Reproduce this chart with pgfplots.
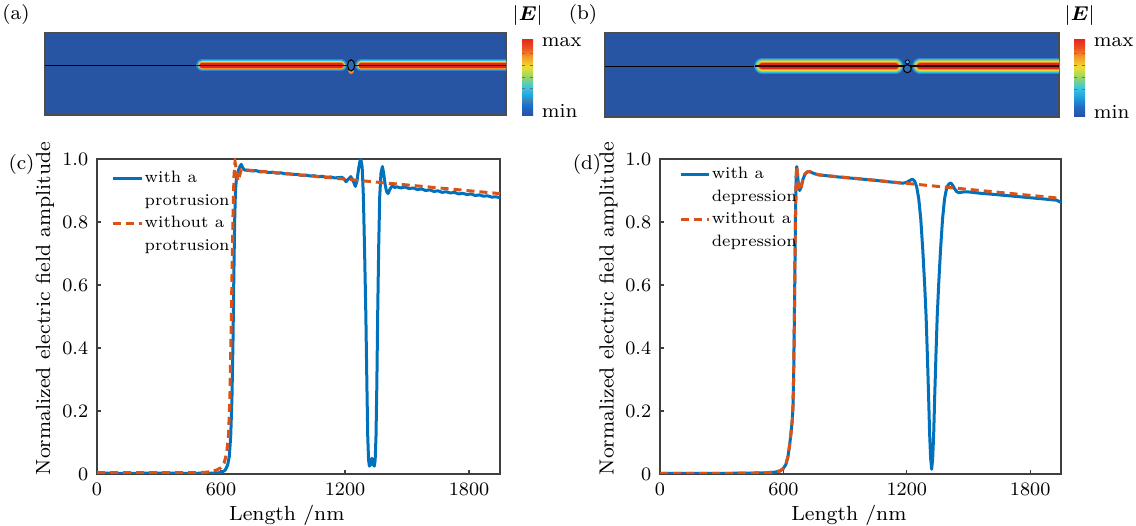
\documentclass[border=0pt]{standalone}
\usepackage{pgfplots}
\pgfplotsset{compat=1.18}
\usepackage{bm}

\definecolor{mblue}{RGB}{0,114,189}
\definecolor{mred}{RGB}{217,83,25}
\definecolor{bgblue}{RGB}{40,84,164}
\definecolor{fl1}{RGB}{55,130,205}
\definecolor{fl2}{RGB}{45,190,228}
\definecolor{fl3}{RGB}{150,212,95}
\definecolor{fl4}{RGB}{240,218,48}
\definecolor{fl5}{RGB}{245,140,38}
\definecolor{fl6}{RGB}{226,38,30}
\definecolor{dotfill}{RGB}{45,110,170}

% one layer of the field band: colour, width, y, left start, left end, right start
\newcommand{\bandlayer}[6]{%
  \addplot[no marks, draw=#1, line width=#2, line cap=round, unbounded coords=jump]
    coordinates {(#4,#3) (#5,#3) (0.66,nan) (#6,#3) (1.06,#3)};}
\newcommand{\ls}{\rule[-1.6pt]{0pt}{6.4pt}}

\pgfplotsset{
  fieldmap/.style={
    scale only axis, anchor=south west,
    xmin=0, xmax=1, ymin=0, ymax=1,
    xtick=\empty, ytick=\empty,
    axis line style={draw=black!70, line width=0.5pt},
    axis background/.style={fill=bgblue},
    colormap={fieldjet}{rgb255=(38,80,165) rgb255=(35,105,195) rgb255=(30,160,222)
      rgb255=(60,200,222) rgb255=(150,212,100) rgb255=(235,222,50) rgb255=(245,160,40)
      rgb255=(235,80,35) rgb255=(225,35,30)},
    colorbar, point meta min=0, point meta max=1,
  },
  cbar/.style={
    scale only axis, width=4.4pt,
    at={(parent axis.south east)}, anchor=south west,
    ytick={0.06,0.95}, yticklabels={min,max},
    yticklabel style={font=\fontsize{8}{9}\selectfont},
    major tick length=0pt,
    extra y ticks={0.2,0.35,0.5,0.65,0.8}, extra y tick labels={},
    extra y tick style={major tick length=1.2pt, tick style={black!55, line width=0.3pt}},
    axis line style={draw=none},
    title={$|\bm{E}|$},
    title style={font=\fontsize{7.6}{8}\selectfont, at={(0.5,1)}, anchor=center, yshift=3pt},
  },
  lineaxis/.style={
    scale only axis, anchor=south west,
    width=161.2pt, height=126pt,
    xmin=0, xmax=1950, ymin=0, ymax=1,
    xtick={0,600,1200,1800}, xticklabels={0,600,1200,1800},
    ytick={0,0.2,0.4,0.6,0.8,1}, yticklabels={0,0.2,0.4,0.6,0.8,1.0},
    tick align=inside, xtick pos=left, ytick pos=left,
    major tick length=1.5pt,
    tick style={black!75, line width=0.5pt},
    axis line style={black!75, line width=0.6pt},
    ticklabel style={font=\fontsize{7.6}{9}\selectfont},
    xlabel={Length /nm}, ylabel={Normalized electric field amplitude},
    label style={font=\fontsize{8.2}{10}\selectfont},
    xlabel style={at={(axis description cs:0.471,-0.13)}, anchor=center},
    ylabel style={at={(axis description cs:-0.129,0.525)}, anchor=center},
    legend cell align=left,
    legend style={draw=none, fill=none, anchor=north west, inner sep=0pt,
      font=\fontsize{6.6}{8}\selectfont, row sep=1.7pt, nodes={inner sep=0.5pt}},
    legend image code/.code={\draw[#1] (0pt,0pt) -- (11.6pt,0pt);},
  },
  bluecurve/.style={no marks, mblue, line width=1.2pt, line join=round},
  redcurve/.style={no marks, mred, line width=1.2pt, dash pattern=on 3.2pt off 2pt},
}

\begin{document}
\begin{tikzpicture}
\useasboundingbox (0,0) rectangle (454.4pt,210.4pt);

% (a) field map, protrusion
\begin{axis}[fieldmap, at={(18pt,164.4pt)}, width=184.4pt, height=33.1pt,
  colorbar style={cbar, xshift=-2.1pt, yshift=-0.4pt, height=31.2pt}]
  \addplot[no marks, black, line width=0.45pt] coordinates {(0,0.6) (1,0.6)};
  \bandlayer{fl1}{4.8pt}{0.6}{0.341}{0.642}{0.686}
  \bandlayer{fl2}{4.0pt}{0.6}{0.341}{0.642}{0.686}
  \bandlayer{fl4}{3.2pt}{0.6}{0.341}{0.642}{0.686}
  \bandlayer{fl5}{2.7pt}{0.6}{0.341}{0.642}{0.686}
  \bandlayer{fl6}{2.2pt}{0.6}{0.341}{0.642}{0.686}
  \addplot[no marks, black!80!red, line width=0.5pt] coordinates {(0.33,0.6) (1,0.6)};
  \addplot[only marks, mark=*, mark size=0.9pt, fl5] coordinates {(0.664,0.53)};
  \addplot[only marks, mark=*, mark size=1.4pt,
    mark options={draw=black, line width=0.4pt, fill=dotfill, yscale=1.6}] coordinates {(0.664,0.6)};
\end{axis}

% (b) field map, depression
\begin{axis}[fieldmap, at={(242pt,163.6pt)}, width=181.6pt, height=33.9pt,
  colorbar style={cbar, xshift=-2.5pt, height=31.6pt}]
  \addplot[no marks, black, line width=0.45pt] coordinates {(0,0.6) (1,0.6)};
  \bandlayer{fl1}{6.4pt}{0.6}{0.346}{0.640}{0.694}
  \bandlayer{fl2}{5.6pt}{0.6}{0.346}{0.640}{0.694}
  \bandlayer{fl3}{4.8pt}{0.6}{0.346}{0.640}{0.694}
  \bandlayer{fl4}{4.1pt}{0.6}{0.346}{0.640}{0.694}
  \bandlayer{fl5}{3.4pt}{0.6}{0.346}{0.640}{0.694}
  \bandlayer{fl6}{2.6pt}{0.6}{0.346}{0.640}{0.694}
  \addplot[no marks, black!85!red, line width=0.55pt] coordinates {(0.33,0.6) (1,0.6)};
  \addplot[only marks, mark=*, mark size=0.8pt, mark options={draw=black, line width=0.3pt, fill=fl2}] coordinates {(0.666,0.65)};
  \addplot[only marks, mark=*, mark size=1.6pt,
    mark options={draw=black, line width=0.4pt, fill=dotfill}] coordinates {(0.666,0.57)};
\end{axis}

% (c) protrusion
\begin{axis}[lineaxis, at={(38.8pt,20.8pt)},
  legend style={at={(axis description cs:0,1)}, xshift=5.6pt, yshift=-4pt},
  legend entries={\ls with a, \ls protrusion, \ls without a, \ls protrusion}]
  \addplot[bluecurve] coordinates {
    (0,0.003) (150,0.002) (300,0.003) (450,0.002) (560,0.003) (590,0.004) (605,0.006)
    (620,0.012) (632,0.028) (640,0.055) (647,0.12) (653,0.24) (658,0.42) (662,0.62)
    (666,0.8) (670,0.9) (675,0.94) (683,0.962) (691,0.976) (698,0.983) (705,0.972)
    (714,0.965) (730,0.964) (750,0.962) (770,0.963) (790,0.959) (810,0.960) (830,0.957)
    (850,0.958) (870,0.955) (890,0.956) (910,0.953) (930,0.953) (950,0.951) (970,0.951)
    (990,0.948) (1010,0.949) (1030,0.946) (1050,0.947) (1070,0.944) (1090,0.945)
    (1110,0.942) (1130,0.943) (1150,0.940) (1170,0.941) (1185,0.942) (1195,0.937)
    (1205,0.928) (1215,0.935) (1228,0.944) (1240,0.930) (1250,0.913) (1258,0.930)
    (1266,0.970) (1272,0.992) (1277,0.998) (1283,0.975) (1289,0.88) (1295,0.70)
    (1301,0.50) (1306,0.28) (1310,0.12) (1314,0.045) (1318,0.025) (1324,0.030)
    (1330,0.050) (1336,0.030) (1342,0.025) (1346,0.045) (1350,0.12) (1354,0.28)
    (1358,0.50) (1363,0.72) (1368,0.88) (1374,0.955) (1381,0.976) (1387,0.955)
    (1394,0.920) (1401,0.897) (1408,0.890) (1416,0.902) (1425,0.912) (1433,0.914)
    (1441,0.909) (1450,0.912) (1470,0.908) (1490,0.911) (1510,0.906) (1530,0.908)
    (1550,0.903) (1570,0.905) (1590,0.900) (1610,0.902) (1630,0.897) (1650,0.899)
    (1670,0.894) (1690,0.896) (1710,0.892) (1730,0.894) (1750,0.889) (1770,0.891)
    (1790,0.887) (1810,0.889) (1830,0.884) (1850,0.886) (1870,0.882) (1890,0.883)
    (1910,0.879) (1930,0.880) (1950,0.877)};
  \addlegendimage{empty legend}
  \addplot[redcurve] coordinates {
    (0,0.004) (150,0.004) (300,0.004) (450,0.004) (520,0.005) (555,0.008) (580,0.013)
    (600,0.02) (615,0.035) (627,0.065) (636,0.12) (643,0.24) (648,0.42) (653,0.62)
    (658,0.82) (663,0.95) (668,0.99) (673,0.97) (679,0.94) (685,0.93) (691,0.95)
    (698,0.966) (710,0.966) (1950,0.890)};
  \addlegendimage{empty legend}
\end{axis}

% (d) depression
\begin{axis}[lineaxis, at={(264pt,20.8pt)}, width=160.4pt,
  legend style={at={(axis description cs:0,1)}, xshift=7.6pt, yshift=-2.4pt},
  legend image code/.code={\draw[#1] (0pt,0pt) -- (11.2pt,0pt);},
  legend entries={\ls with a, \ls depression, \ls without a, \ls depression}]
  \addplot[bluecurve] coordinates {
    (0,0.002) (150,0.002) (300,0.002) (450,0.003) (520,0.004) (560,0.006) (585,0.01)
    (600,0.018) (612,0.03) (622,0.055) (630,0.09) (637,0.13) (643,0.17) (647,0.22)
    (650,0.32) (653,0.47) (656,0.65) (659,0.83) (662,0.94) (665,0.976) (669,0.95)
    (674,0.912) (679,0.900) (686,0.910) (695,0.935) (705,0.952) (716,0.959) (727,0.960)
    (745,0.955) (767,0.950) (850,0.944) (950,0.938) (1050,0.932) (1150,0.925)
    (1180,0.923) (1200,0.926) (1215,0.932) (1227,0.936) (1238,0.930) (1248,0.912)
    (1258,0.875) (1268,0.81) (1278,0.71) (1287,0.60) (1294,0.50) (1300,0.38)
    (1306,0.25) (1311,0.13) (1316,0.05) (1321,0.015) (1326,0.05) (1331,0.13)
    (1336,0.25) (1342,0.38) (1348,0.50) (1355,0.60) (1364,0.71) (1374,0.81)
    (1384,0.875) (1394,0.908) (1404,0.92) (1413,0.924) (1422,0.918) (1432,0.906)
    (1443,0.896) (1455,0.893) (1470,0.895) (1490,0.896) (1520,0.894) (1560,0.891)
    (1600,0.889) (1650,0.886) (1700,0.883) (1750,0.880) (1800,0.877) (1850,0.874)
    (1900,0.871) (1930,0.869) (1950,0.862)};
  \addlegendimage{empty legend}
  \addplot[redcurve] coordinates {
    (0,0.002) (150,0.002) (300,0.002) (450,0.003) (520,0.004) (560,0.006) (585,0.01)
    (600,0.018) (612,0.03) (622,0.055) (630,0.09) (637,0.13) (643,0.17) (647,0.22)
    (650,0.32) (653,0.47) (656,0.65) (659,0.83) (662,0.94) (665,0.976) (669,0.95)
    (674,0.912) (679,0.900) (686,0.910) (695,0.935) (705,0.952) (716,0.959) (727,0.960)
    (745,0.955) (767,0.950) (1950,0.875)};
  \addlegendimage{empty legend}
\end{axis}

% panel letters
\node[font=\fontsize{8}{9}\selectfont] at (6.4pt,204.4pt) {(a)};
\node[font=\fontsize{8}{9}\selectfont] at (233.2pt,204.4pt) {(b)};
\node[font=\fontsize{8}{9}\selectfont] at (8.6pt,144.4pt) {(c)};
\node[font=\fontsize{8}{9}\selectfont] at (234.8pt,144.4pt) {(d)};
\end{tikzpicture}
\end{document}
